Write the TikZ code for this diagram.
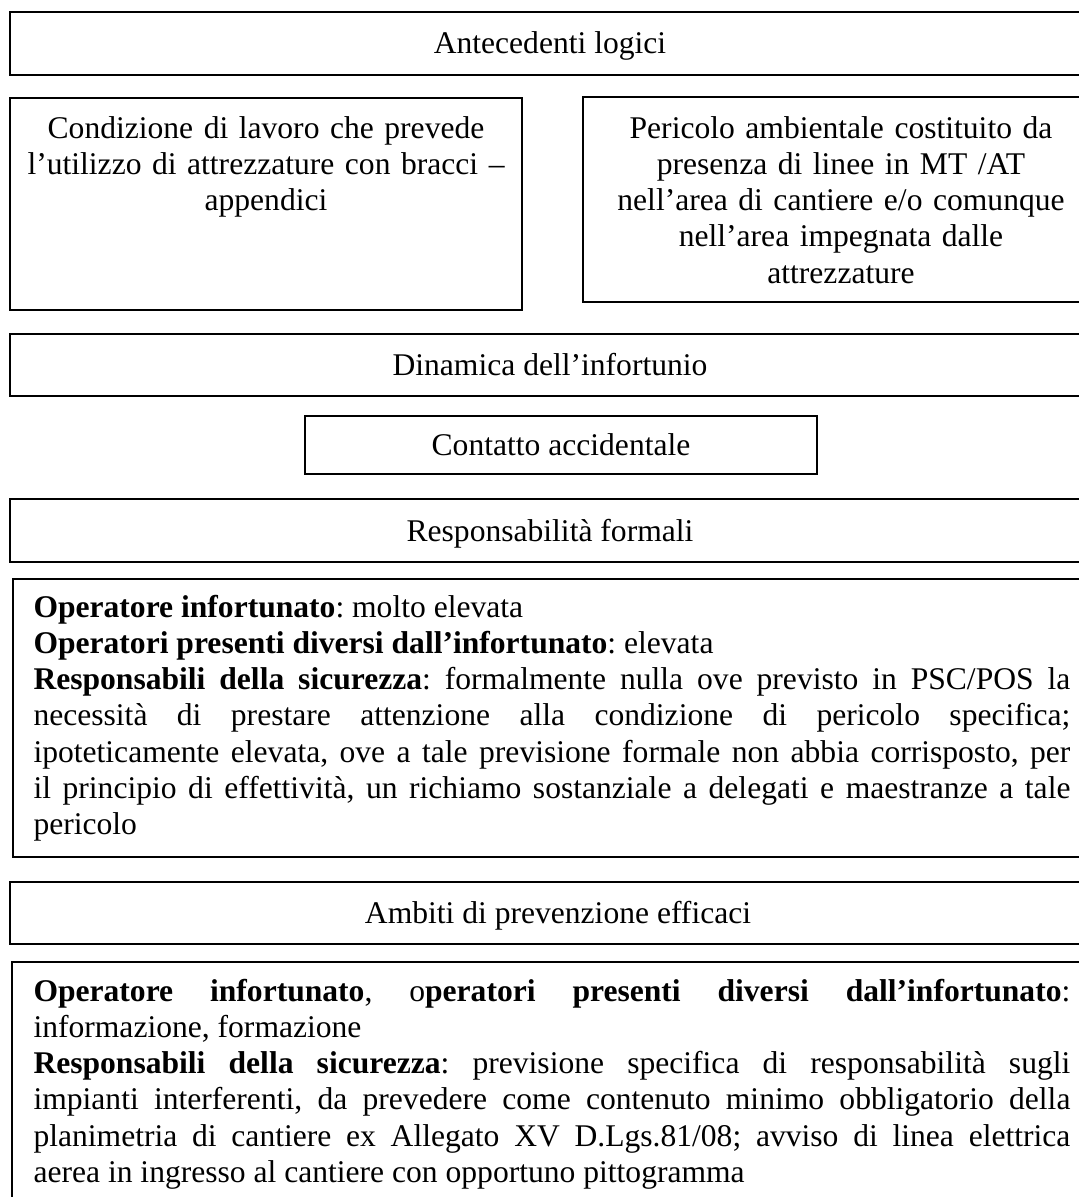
\documentclass[tikz,border=0pt]{standalone}
\usepackage{fontspec}
\setmainfont{Liberation Serif}
\newlength\parw
\setlength\parw{394pt}
\tikzset{
  box/.style={draw, line width=0.75pt},
  hd/.style={anchor=base, inner sep=0pt, font=\fontsize{12}{13.8}\selectfont},
  ctr/.style={anchor=base, inner sep=0pt, text width=185pt, align=center, font=\fontsize{12}{13.8}\selectfont},
  para/.style={anchor=base west, inner sep=0pt, text width=\parw, align=justify,
    font=\fontsize{12}{13.8}\selectfont}
}
\begin{document}
\frenchspacing
\hyphenpenalty=10000\relax
\tolerance=10000\relax
\begin{tikzpicture}[x=0.38pt, y=-0.38pt]
\useasboundingbox (0,0) rectangle (1079,1197);
% Antecedenti
\draw[box] (10,12) rectangle (1110,75);
\node[hd] (t1) at (550,53) {Antecedenti logici};
% Condizione
\draw[box] (10,98) rectangle (522,310);
\node[ctr] (t2) at (266,138) {Condizione di lavoro che prevede\\ l’utilizzo di attrezzature con bracci –\\ appendici};
% Pericolo
\draw[box] (583,97) rectangle (1110,302);
\node[ctr] (t3) at (841,138) {Pericolo ambientale costituito da\\ presenza di linee in MT /AT\\ nell’area di cantiere e/o comunque\\ nell’area impegnata dalle\\ attrezzature};
% Dinamica
\draw[box] (10,334) rectangle (1110,396);
\node[hd] (t4) at (550,375) {Dinamica dell’infortunio};
% Contatto
\draw[box] (305,416) rectangle (817,474);
\node[hd] (t5) at (561,455) {Contatto accidentale};
% Responsabilita
\draw[box] (10,499) rectangle (1110,562);
\node[hd] (t6) at (550,541) {Responsabilità formali};
\draw[box] (13,579) rectangle (1110,857);
\node[para] (t7) at (33,617) {\textbf{Operatore infortunato}: molto elevata\\
\textbf{Operatori presenti diversi dall’infortunato}: elevata\\
\textbf{Responsabili della sicurezza}: formalmente nulla ove previsto in PSC/POS la\linebreak
necessità di prestare attenzione alla condizione di pericolo specifica;\linebreak
ipoteticamente elevata, ove a tale previsione formale non abbia corrisposto, per\linebreak
il principio di effettività, un richiamo sostanziale a delegati e maestranze a tale\linebreak
pericolo};
% Ambiti
\draw[box] (10,882) rectangle (1110,944);
\node[hd] (t8) at (558,923) {Ambiti di prevenzione efficaci};
\draw[box] (12,962) rectangle (1110,1220);
\node[para] (t9) at (33,1001) {\textbf{Operatore infortunato}, o\textbf{peratori presenti diversi dall’infortunato}:\linebreak
informazione, formazione\\
\textbf{Responsabili della sicurezza}: previsione specifica di responsabilità sugli\linebreak
impianti interferenti, da prevedere come contenuto minimo obbligatorio della\linebreak
planimetria di cantiere ex Allegato XV D.Lgs.81/08; avviso di linea elettrica\linebreak
aerea in ingresso al cantiere con opportuno pittogramma};
\end{tikzpicture}
\end{document}
